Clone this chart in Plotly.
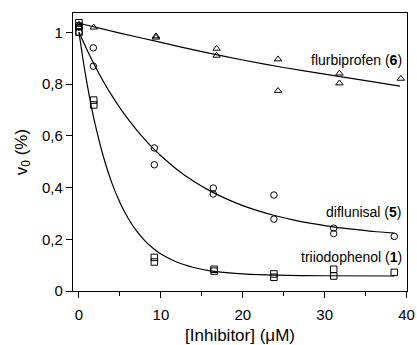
import plotly.graph_objects as go

# ---- data ----
# flurbiprofen (6) - triangles
flu_x = [0, 0, 1.8, 9.4, 9.4, 16.8, 16.8, 24.3, 24.3, 31.8, 31.8, 39.3]
flu_y = [1.03, 1.02, 1.019, 0.985, 0.98, 0.937, 0.91, 0.896, 0.774, 0.841, 0.803, 0.821]
# diflunisal (5) - circles
dif_x = [0, 0, 1.75, 1.75, 9.2, 9.2, 16.4, 16.4, 23.8, 23.8, 31.1, 31.1, 38.5]
dif_y = [1.02, 1.0, 0.94, 0.869, 0.553, 0.488, 0.398, 0.375, 0.371, 0.278, 0.243, 0.222, 0.211]
# triiodophenol (1) - squares
tri_x = [0, 0, 0, 1.8, 1.8, 9.2, 9.2, 16.5, 16.5, 23.8, 23.8, 31.1, 31.1, 38.5]
tri_y = [1.037, 1.024, 1.0, 0.738, 0.719, 0.130, 0.112, 0.084, 0.077, 0.066, 0.053, 0.084, 0.058, 0.072]

# fitted curves, sampled along the drawn lines in the picture
flu_cx = [0, 5, 10, 15, 20, 25, 30, 35, 39.2]
flu_cy = [1.035, 0.997, 0.961, 0.925, 0.893, 0.864, 0.838, 0.813, 0.792]
dif_cx = [0, 1, 2, 3, 4, 5, 6, 7, 8, 9, 10, 12, 14, 16, 18, 20, 22, 24, 26, 28, 30,
          32, 34, 36, 38.5]
dif_cy = [1.0, 0.931, 0.867, 0.809, 0.756, 0.708, 0.664, 0.624, 0.587, 0.553, 0.523,
          0.469, 0.424, 0.387, 0.356, 0.330, 0.309, 0.291, 0.276, 0.263, 0.253, 0.244,
          0.237, 0.230, 0.224]
tri_cx = [0, 0.5, 1, 1.5, 2, 3, 4, 5, 6, 7, 8, 9, 10, 12, 14, 16, 18, 20, 24, 30, 38.5]
tri_cy = [1.0, 0.893, 0.799, 0.715, 0.641, 0.517, 0.419, 0.342, 0.281, 0.233, 0.196,
          0.166, 0.143, 0.111, 0.091, 0.078, 0.071, 0.066, 0.061, 0.059, 0.058]

labels = ["flurbiprofen (<b>6</b>)", "diflunisal (<b>5</b>)", "triiodophenol (<b>1</b>)"]
label_y = [0.893, 0.307, 0.130]

ytick_vals = [0, 0.2, 0.4, 0.6, 0.8, 1]
ytick_text = ["0", "0,2", "0,4", "0,6", "0,8", "1"]
xtick_vals = [0, 10, 20, 30, 40]

FONT = "Liberation Sans, Arial, sans-serif"
fig = go.Figure()

line_style = dict(color="black", width=1.2, shape="spline", smoothing=0.6)
for cx, cy in [(flu_cx, flu_cy), (dif_cx, dif_cy), (tri_cx, tri_cy)]:
    fig.add_trace(go.Scatter(x=cx, y=cy, mode="lines", line=line_style,
                             hoverinfo="skip", showlegend=False))

mk = dict(color="black", size=6.5, line=dict(color="black", width=1))
fig.add_trace(go.Scatter(x=flu_x, y=flu_y, mode="markers",
                         marker=dict(mk, symbol="triangle-up-open"), showlegend=False))
fig.add_trace(go.Scatter(x=dif_x, y=dif_y, mode="markers",
                         marker=dict(mk, symbol="circle-open"), showlegend=False))
fig.add_trace(go.Scatter(x=tri_x, y=tri_y, mode="markers",
                         marker=dict(mk, symbol="square-open"), showlegend=False))

for t, yy in zip(labels, label_y):
    fig.add_annotation(x=39.7, y=yy, xref="x", yref="y", text=t, showarrow=False,
                       xanchor="right", yanchor="middle",
                       font=dict(family=FONT, size=14, color="black"))

fig.update_layout(
    width=417, height=345,
    margin=dict(l=73, r=10, t=13, b=54, autoexpand=False),
    paper_bgcolor="white", plot_bgcolor="white",
    font=dict(family=FONT, color="black", size=15),
    xaxis=dict(range=[-0.73, 40.05], tickvals=xtick_vals, ticks="outside", ticklen=6,
               tickwidth=1, tickcolor="black", showline=True, linecolor="black",
               linewidth=1.3, mirror=True, showgrid=False, zeroline=False,
               tickfont=dict(size=15), ticklabelstandoff=4, automargin=False,
               minor=dict(ticks="outside", dtick=5, tick0=0, ticklen=4, tickcolor="black",
                          showgrid=False),
               title=dict(text="[Inhibitor] (μM)", font=dict(size=17), standoff=7)),
    yaxis=dict(range=[0, 1.0746], tickvals=ytick_vals, ticktext=ytick_text, ticks="outside",
               ticklen=6, tickwidth=1, tickcolor="black", showline=True, linecolor="black",
               linewidth=1.3, mirror=True, showgrid=False, zeroline=False,
               tickfont=dict(size=15), automargin=False,
               title=dict(text="v<sub>0</sub> (%)", font=dict(size=17), standoff=10)),
)

fig.write_html("out.html")
